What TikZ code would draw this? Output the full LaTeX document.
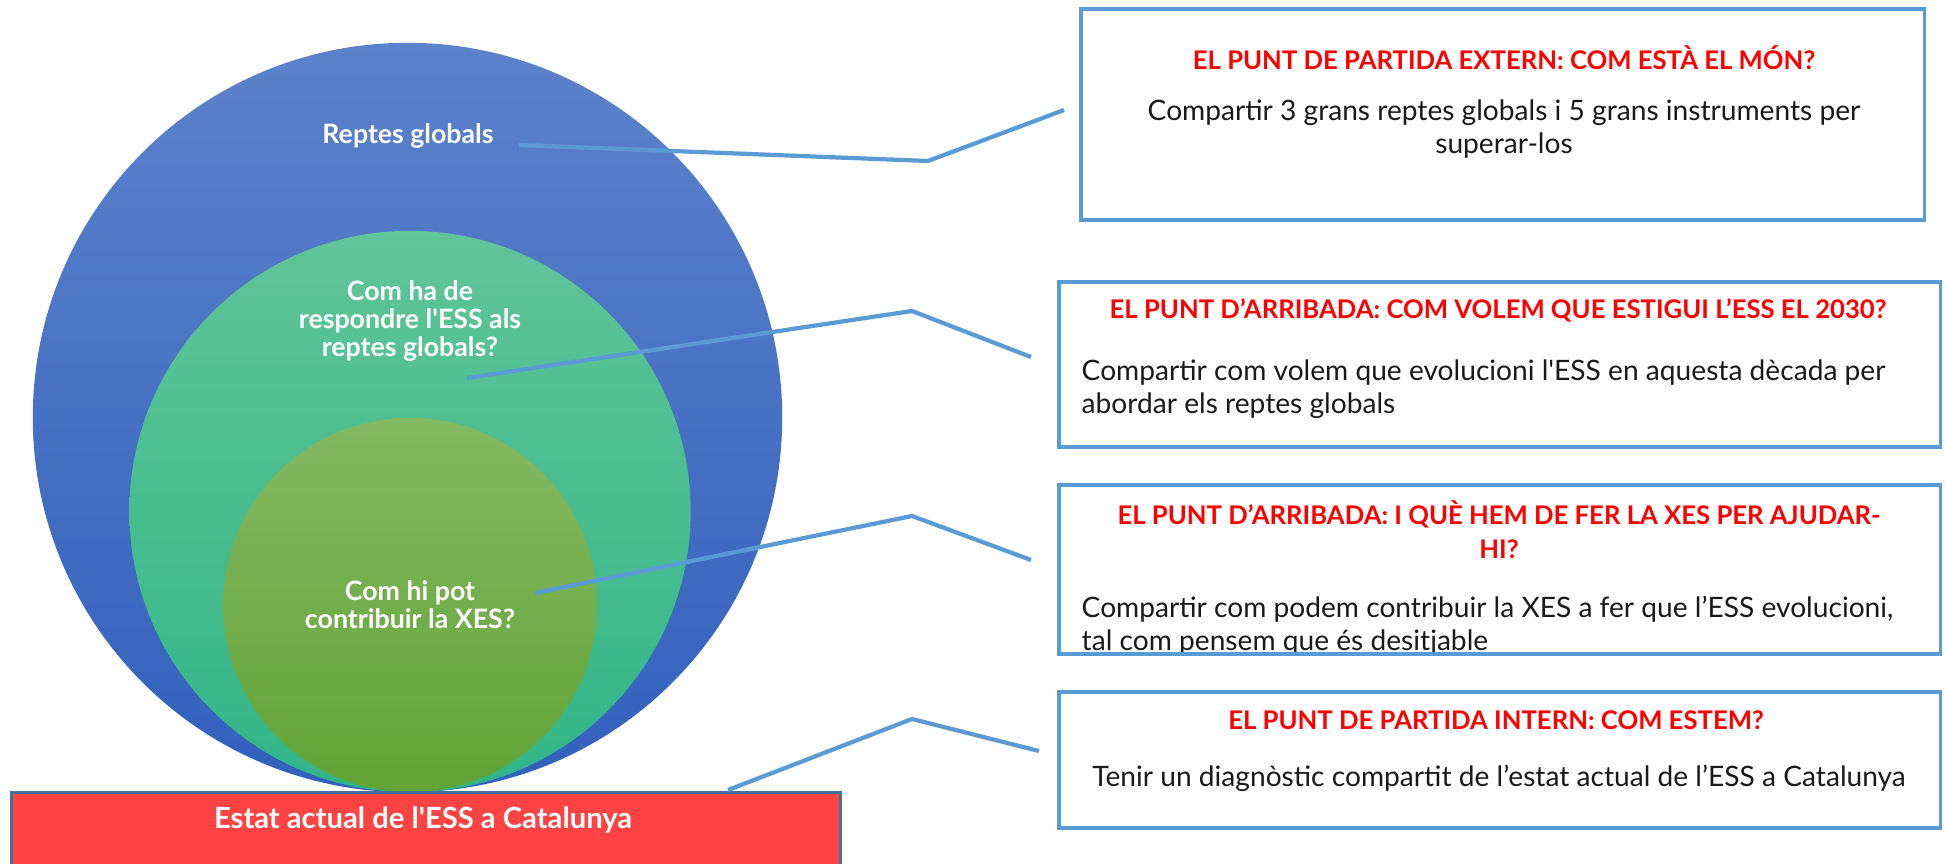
\documentclass[tikz,border=0pt]{standalone}
\usepackage{fontspec}
\setmainfont{Lato}
\definecolor{bigtop}{HTML}{5C82CA}
\definecolor{bigbot}{HTML}{3260BE}
\definecolor{midtop}{HTML}{60C598}
\definecolor{midbot}{HTML}{30B588}
\definecolor{intop}{HTML}{84B862}
\definecolor{inbot}{HTML}{62A436}
\definecolor{redfill}{HTML}{FF4343}
\definecolor{redline}{HTML}{41719C}
\definecolor{linkblue}{HTML}{5B9BD5}
\definecolor{titlered}{HTML}{FF0000}
\definecolor{bodytext}{HTML}{1A1A1A}
\tikzset{
  ring/.style={circle, draw=none, inner sep=0pt},
  ringlabel/.style={text=white, font=\fontsize{7.6pt}{8pt}\selectfont\bfseries, align=center, inner sep=0pt},
  infobox/.style={draw=linkblue, line width=1pt, fill=white, rectangle, inner sep=0pt},
  boxtitle/.style={text=titlered, font=\fontsize{7.3pt}{9.7pt}\selectfont\bfseries, align=center, inner sep=0pt},
  boxbody/.style={text=bodytext, font=\fontsize{8pt}{9.4pt}\selectfont, inner sep=0pt},
  link/.style={draw=linkblue, line width=1.2pt, line join=round}
}
\begin{document}
\begin{tikzpicture}[x=0.01cm,y=-0.01cm]
\useasboundingbox (0,0) rectangle (1946,864);

% concentric circles
\node[ring, minimum size=7.49cm, top color=bigtop, bottom color=bigbot] (big) at (407.5,417.5) {};
\node[ring, minimum size=5.61cm, top color=midtop, bottom color=midbot] (mid) at (410,511.5) {};
\node[ring, minimum size=3.74cm, top color=intop, bottom color=inbot] (inner) at (410,605) {};

\node[ringlabel] (lglobal) at (408,136) {Reptes globals};
\node[ringlabel] (lrespond) at (410,321) {Com ha de\\respondre l\textquotesingle ESS als\\reptes globals?};
\node[ringlabel] (lcontrib) at (410,605) {Com hi pot\\contribuir la XES?};

% red base bar
\node[rectangle, anchor=north west, fill=redfill, draw=redline, line width=0.8pt,
      minimum width=8.29cm, minimum height=1.2cm, inner sep=0pt] (state) at (10,791) {};
\node[text=white, font=\fontsize{8.3pt}{9pt}\selectfont\bfseries, inner sep=0pt] (lstate) at (423,820) {Estat actual de l\textquotesingle ESS a Catalunya};

% info boxes
\node[infobox, minimum width=8.43cm, minimum height=2.11cm] (b1) at (1502.5,114.5) {};
\node[infobox, minimum width=8.81cm, minimum height=1.65cm] (b2) at (1499.5,364.5) {};
\node[infobox, minimum width=8.81cm, minimum height=1.69cm] (b3) at (1499.5,569.5) {};
\node[infobox, minimum width=8.81cm, minimum height=1.36cm] (b4) at (1499.5,760) {};

\node[boxtitle] (t1) at (1504,58) {EL PUNT DE PARTIDA EXTERN: COM ESTÀ EL MÓN?};
\node[boxbody, align=center] (d1) at (1504,129) {Compartir 3 grans reptes globals i 5 grans instruments per\\superar-los};

\node[boxtitle] (t2) at (1498,310) {EL PUNT D’ARRIBADA: COM VOLEM QUE ESTIGUI L’ESS EL 2030?};
\node[boxbody, align=left, anchor=north west] (d2) at (1081,359) {Compartir com volem que evolucioni l\textquotesingle ESS en aquesta dècada per\\abordar els reptes globals};

\node[boxtitle] (t3) at (1499,530) {EL PUNT D’ARRIBADA: I QUÈ HEM DE FER LA XES PER AJUDAR-\\HI?};
\begin{scope}
\clip (1062,488) rectangle (1937,651);
\node[boxbody, align=left, anchor=north west] (d3) at (1081,595) {Compartir com podem contribuir la XES a fer que l’ESS evolucioni,\\tal com pensem que és desitjable};
\end{scope}
\node[draw=linkblue, line width=1pt, rectangle, inner sep=0pt, minimum width=8.81cm, minimum height=1.69cm] (b3frame) at (1499.5,569.5) {};

\node[boxtitle] (t4) at (1496,720) {EL PUNT DE PARTIDA INTERN: COM ESTEM?};
\node[boxbody] (d4) at (1499,778) {Tenir un diagnòstic compartit de l’estat actual de l’ESS a Catalunya};

% connectors
\coordinate (s1) at (519,145); \coordinate (k1) at (928,161); \coordinate (e1) at (1064,110);
\coordinate (s2) at (467,378); \coordinate (k2) at (912,311); \coordinate (e2) at (1031,357);
\coordinate (s3) at (535,593); \coordinate (k3) at (912,516); \coordinate (e3) at (1031,560);
\coordinate (s4) at (728,790); \coordinate (k4) at (912,719); \coordinate (e4) at (1039,751);
\draw[link] (s1) -- (k1) -- (e1);
\draw[link] (s2) -- (k2) -- (e2);
\draw[link] (s3) -- (k3) -- (e3);
\draw[link] (s4) -- (k4) -- (e4);
\end{tikzpicture}
\end{document}
